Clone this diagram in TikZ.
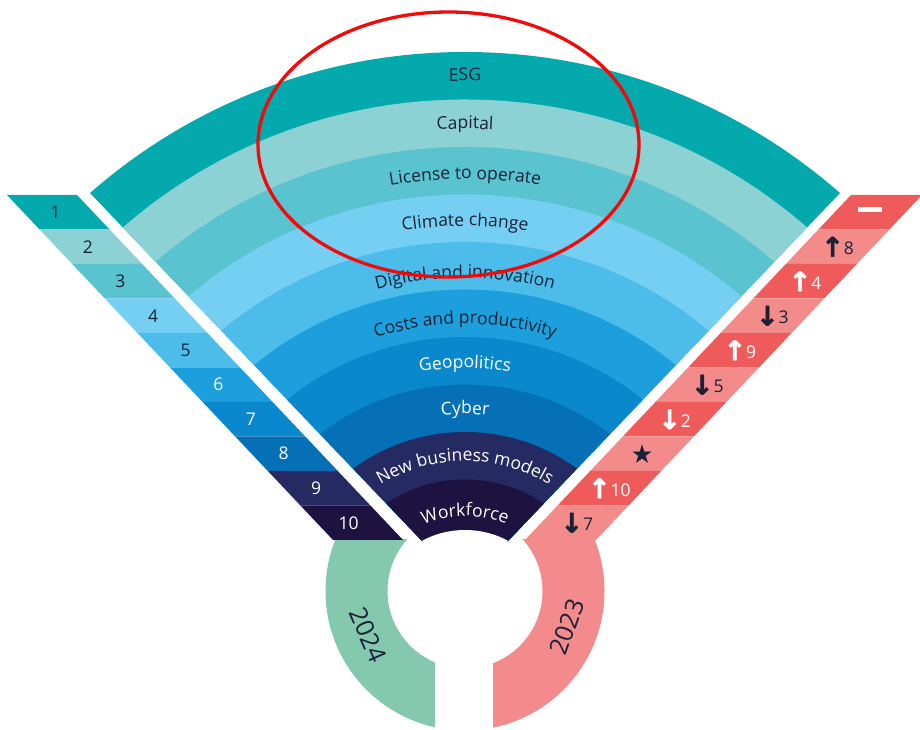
\documentclass[tikz,border=0pt]{standalone}
\usepackage{fontspec}
\setmainfont{Open Sans}
\newfontfamily\symfont[FakeBold=2]{DejaVu Sans}
\usetikzlibrary{calc}
\usetikzlibrary{decorations.text}
\definecolor{band1}{HTML}{03A9AD}
\definecolor{band2}{HTML}{8CD1D3}
\definecolor{band3}{HTML}{59C3CF}
\definecolor{band4}{HTML}{74CFF3}
\definecolor{band5}{HTML}{4CBDEA}
\definecolor{band6}{HTML}{1C9FDC}
\definecolor{band7}{HTML}{0A88CE}
\definecolor{band8}{HTML}{0670B6}
\definecolor{band9}{HTML}{262A62}
\definecolor{band10}{HTML}{1D1240}
\definecolor{ink}{HTML}{1B2238}
\definecolor{rdark}{HTML}{EF5B5B}
\definecolor{rlight}{HTML}{F48B8B}
\definecolor{mgreen}{HTML}{84C9AE}
\definecolor{mpink}{HTML}{F38B8D}
\definecolor{mred}{HTML}{F00A0A}
\newcommand\lblfont{\fontsize{17.5}{20}\selectfont}
\newcommand\upar{{\symfont\bfseries\fontsize{27}{27}\selectfont\raisebox{-2pt}{↑}}}
\newcommand\dnar{{\symfont\bfseries\fontsize{27}{27}\selectfont\raisebox{-2pt}{↓}}}
\newcommand\bigstar{{\symfont\fontsize{23}{23}\selectfont ★}}
\tikzset{numlabel/.style = {font=\lblfont, text=#1, inner sep=0pt},
         yearlabel/.style = {font=\fontsize{25}{28}\selectfont, text=ink, inner sep=0pt}}

\begin{document}
\begin{tikzpicture}[x=1pt, y=1pt]
  \useasboundingbox (0,0) rectangle (920,730);

  % ring under the fan
  \begin{scope}
    \clip (0,0) rectangle (435,190);
    \fill[mgreen, even odd rule] (465,139) circle[radius=139.5] circle[radius=77.5];
  \end{scope}
  \begin{scope}
    \clip (493,0) rectangle (920,190);
    \fill[mpink, even odd rule] (465,139) circle[radius=139.5] circle[radius=77.5];
  \end{scope}

  % fan
  \begin{scope}
    \clip (423,188) -- (-76.5,711.5) -- (-76.5,760) -- (1006.5,760) -- (1006.5,711.5) -- (507,188) -- cycle;
    \foreach \col [count=\i from 0] in {band1,band2,band3,band4,band5,band6,band7,band8,band9,band10} {
      \fill[\col] (465,109) circle[radius={569-47.5*\i}];
    }
    \fill[white] (465,109) circle[radius=91];
  \end{scope}

  \foreach \txt/\rad/\col in {ESG/540/ink, Capital/492/ink, License to operate/442/ink,
      Climate change/395/ink, Digital and innovation/343/ink, Costs and productivity/297/ink,
      Geopolitics/253/white, Cyber/207/white, New business models/160/white, Workforce/105/white} {
    \edef\tmp{\noexpand\path[decorate, decoration={text along path, text align=center,
        text color=\col, text={|\noexpand\lblfont|\txt}}]
      (465,109) ++(150:\rad) arc[start angle=150, end angle=30, radius=\rad];}
    \tmp
  }

  % left ranking 2024
  \foreach \col/\tc [count=\i] in {band1/ink, band2/ink, band3/ink, band4/ink, band5/ink,
      band6/white, band7/white, band8/white, band9/white, band10/white} {
    \pgfmathsetmacro\xl{7+32.6*(\i-1)}
    \pgfmathsetmacro\yt{535-34.5*(\i-1)}
    \fill[\col] (\xl,\yt) -- ++(70,0) -- ++(32.6,-34.5) -- ++(-70,0) -- cycle;
    \node[numlabel=\tc] (n\i) at (\xl+48.3,\yt-17.25) {\i};
  }

  % right ranking 2023
  \foreach \col/\tc/\lbl [count=\i] in {rdark/white/{\rule[5pt]{24pt}{4.5pt}}, rlight/ink/{\upar 8},
      rdark/white/{\upar 4}, rlight/ink/{\dnar 3}, rdark/white/{\upar 9}, rlight/ink/{\dnar 5},
      rdark/white/{\dnar 2}, rlight/ink/{\bigstar}, rdark/white/{\upar 10}, rlight/ink/{\dnar 7}} {
    \pgfmathsetmacro\xl{851-32.6*(\i-1)}
    \pgfmathsetmacro\yt{535-34.5*(\i-1)}
    \fill[\col] (\xl,\yt) -- ++(71,0) -- ++(-32.6,-34.5) -- ++(-71,0) -- cycle;
    \node[numlabel=\tc] (r\i) at (\xl+19.2,\yt-17.25) {\lbl};
  }

  \node[yearlabel, rotate=-66] (y24) at (368,95) {2024};
  \node[yearlabel, rotate=70] (y23) at (567,103) {2023};

  \draw[mred, line width=3.3pt] (448.5,585.5) ellipse[x radius=190.5, y radius=132.5];
\end{tikzpicture}
\end{document}
